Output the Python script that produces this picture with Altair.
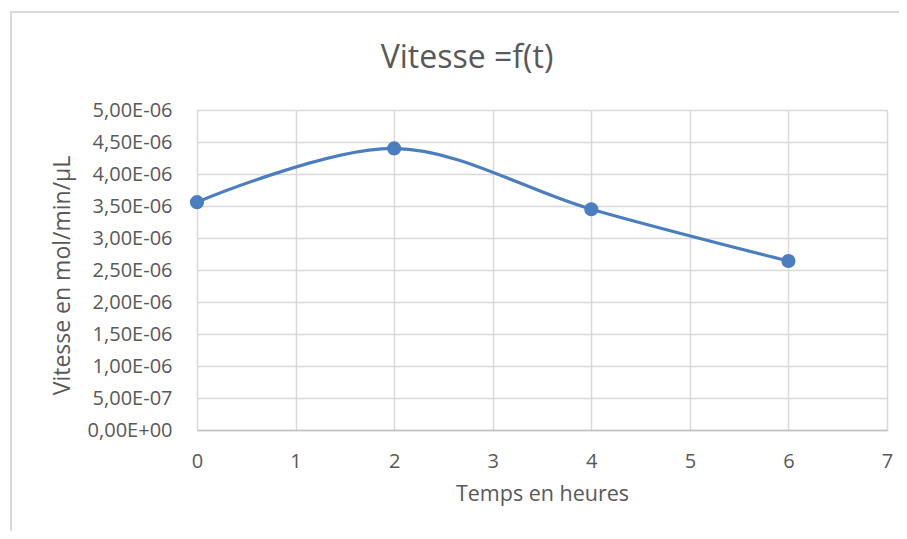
import altair as alt
import pandas as pd

# Data
temps = [0, 2, 4, 6]
vitesse = [3.56e-6, 4.40e-6, 3.45e-6, 2.64e-6]
x_ticks = [0, 1, 2, 3, 4, 5, 6, 7]
y_ticks = [0, 5e-7, 1e-6, 1.5e-6, 2e-6, 2.5e-6, 3e-6, 3.5e-6, 4e-6, 4.5e-6, 5e-6]

df = pd.DataFrame({"t": temps, "v": vitesse})

FONT = "Open Sans"
TXT = "#595959"
BLUE = "#4A7EBF"
GRID = "#D9D9D9"

label_expr = ("replace(replace(upper(replace(format(datum.value, '.2e'), '.', ',')), "
              "'E-', 'E-0'), 'E+', 'E+0')")

x_enc = alt.X(
    "t:Q",
    scale=alt.Scale(domain=[0, 7], nice=False, zero=False),
    axis=alt.Axis(
        values=x_ticks, tickCount=len(x_ticks), format="d", title="Temps en heures",
        grid=True, gridColor=GRID, gridWidth=1.5, ticks=False, tickSize=0, domain=True,
        domainColor="#BFBFBF", domainWidth=1.5, labelOverlap=False,
        labelFont=FONT, labelFontSize=20, labelColor=TXT, labelPadding=31,
        labelBaseline="middle", labelFlush=False,
        titleFont=FONT, titleFontSize=21.5, titleColor=TXT, titleFontWeight="normal",
        titleBaseline="middle", titleY=64,
    ),
)
y_enc = alt.Y(
    "v:Q",
    scale=alt.Scale(domain=[0, 5e-6], nice=False),
    axis=alt.Axis(
        values=y_ticks, tickCount=len(y_ticks), labelExpr=label_expr,
        title="Vitesse en mol/min/µL",
        grid=True, gridColor=GRID, gridWidth=1.5, ticks=False, tickSize=0, domain=False,
        labelOverlap=False,
        labelFont=FONT, labelFontSize=20, labelColor=TXT, labelPadding=25,
        labelFlush=False,
        titleFont=FONT, titleFontSize=23, titleColor=TXT, titleFontWeight="normal",
        titleBaseline="middle", titleX=-135, titleY=165, titleAngle=-90,
    ),
)

line = alt.Chart(df).mark_line(
    interpolate="catmull-rom", color=BLUE, strokeWidth=3.2
).encode(x=x_enc, y=y_enc)

points = alt.Chart(df).mark_circle(
    color=BLUE, size=200, opacity=1
).encode(x="t:Q", y="v:Q")

border_v = alt.Chart(df).mark_rule(color=GRID, strokeWidth=2).encode(
    x=alt.value(-186), y=alt.value(-98), y2=alt.value(440)
)
border_h = alt.Chart(df).mark_rule(color=GRID, strokeWidth=2).encode(
    x=alt.value(-187), x2=alt.value(720), y=alt.value(-98)
)

chart = (
    alt.layer(border_v, border_h, line, points)
    .properties(
        width=690,
        height=320,
        autosize=alt.AutoSizeParams(type="none"),
        padding={"left": 189, "top": 102, "right": 12, "bottom": 101},
        title=alt.TitleParams(
            "Vitesse =f(t)", font=FONT, fontSize=32, color=TXT, fontWeight="normal",
            anchor="middle", dx=-75, offset=20, baseline="alphabetic", dy=109,
        ),
    )
    .configure_view(stroke=None)
    .configure(background="white")
)

chart.save("out.html", embed_options={"renderer": "svg", "actions": False})
